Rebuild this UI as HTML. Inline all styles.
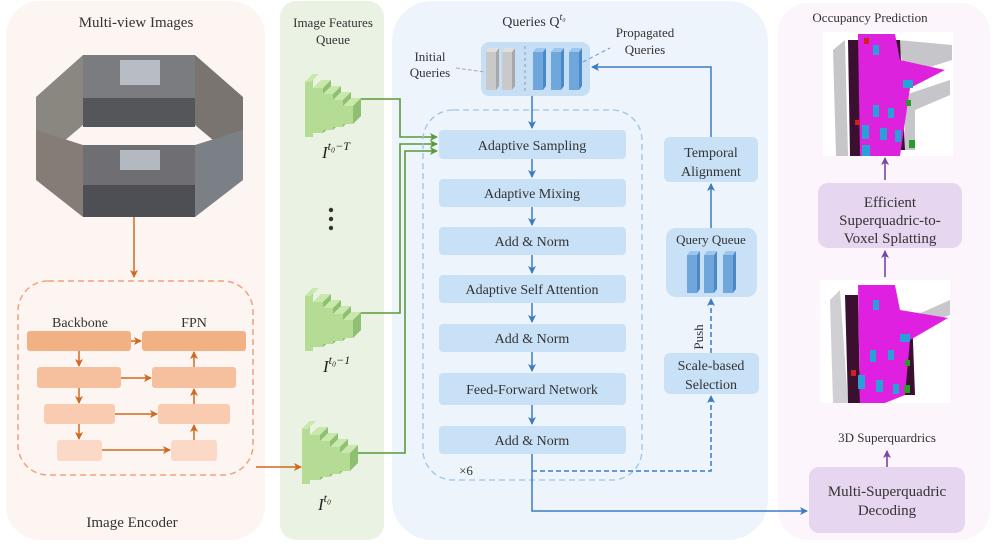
<!DOCTYPE html>
<html><head><meta charset="utf-8"><style>
html,body{margin:0;padding:0;background:#fff;}
svg{display:block;font-family:"Liberation Serif",serif;}
</style></head><body>
<svg width="996" height="544" viewBox="0 0 996 544" xmlns="http://www.w3.org/2000/svg">
<defs>
<marker id="ao" markerWidth="8" markerHeight="8" refX="7" refY="4" orient="auto" markerUnits="userSpaceOnUse"><path d="M0,0 L8,4 L0,8 L2,4z" fill="#d2691e"/></marker>
<marker id="ag" markerWidth="8" markerHeight="8" refX="7" refY="4" orient="auto" markerUnits="userSpaceOnUse"><path d="M0,0 L8,4 L0,8 L2,4z" fill="#5a9a3a"/></marker>
<marker id="ab" markerWidth="8" markerHeight="8" refX="7" refY="4" orient="auto" markerUnits="userSpaceOnUse"><path d="M0,0 L8,4 L0,8 L2,4z" fill="#3a7cc4"/></marker>
<marker id="ap" markerWidth="8" markerHeight="8" refX="7" refY="4" orient="auto" markerUnits="userSpaceOnUse"><path d="M0,0 L8,4 L0,8 L2,4z" fill="#7a45a8"/></marker>
<g id="cube">
<polygon points="0,14 8,6 8,66 0,69" fill="#9ccf7e"/>
<rect x="0" y="14" width="8" height="55" fill="#b4dc95"/>
<polygon points="0,14 8,6 14,6 6,14" fill="#c8e8ac"/>
<rect x="8" y="20" width="10" height="45" fill="#b4dc95"/><polygon points="8,20 16,12 26,12 18,20" fill="#c8e8ac"/><polygon points="18,20 26,12 26,58 18,65" fill="#8fbf70"/>
<rect x="18" y="26" width="10" height="36" fill="#b4dc95"/><polygon points="18,26 26,18 36,18 28,26" fill="#c8e8ac"/><polygon points="28,26 36,18 36,54 28,62" fill="#8fbf70"/>
<rect x="28" y="32" width="10" height="27" fill="#b4dc95"/><polygon points="28,32 36,24 46,24 38,32" fill="#c8e8ac"/><polygon points="38,32 46,24 46,50 38,59" fill="#8fbf70"/>
<rect x="38" y="38" width="10" height="18" fill="#b4dc95"/><polygon points="38,38 46,30 56,30 48,38" fill="#c8e8ac"/><polygon points="48,38 56,30 56,48 48,56" fill="#8fbf70"/>
</g>
<g id="bbar"><rect x="0" y="4" width="10" height="38" fill="#6fa7dc"/><polygon points="10,4 13,0 13,38 10,42" fill="#4a88c6"/><polygon points="0,4 3,0 13,0 10,4" fill="#9cc6ec"/></g>
<g id="gbar"><rect x="0" y="4" width="10" height="38" fill="#c9c9c9"/><polygon points="10,4 13,0 13,38 10,42" fill="#a8a8a8"/><polygon points="0,4 3,0 13,0 10,4" fill="#e0e0e0"/></g>
</defs>

<rect x="6" y="1" width="259" height="539" rx="34" fill="#fdf5f1"/>
<rect x="280" y="1" width="104" height="539" rx="16" fill="#e9f2e3"/>
<rect x="392" y="1" width="376" height="539" rx="40" fill="#eef4fb"/>
<rect x="778" y="3" width="212" height="537" rx="30" fill="#fcf5fb"/>

<text x="136" y="27" font-size="15" text-anchor="middle" fill="#333">Multi-view Images</text>
<polygon points="36,97 83,55 83,125 36,165" fill="#8a8680"/>
<rect x="83" y="55" width="112" height="72" fill="#7b7c80"/>
<rect x="83" y="98" width="112" height="29" fill="#55565a"/>
<polygon points="195,55 243,97 243,165 195,125" fill="#7a7470"/>
<polygon points="36,130 83,145 83,217 36,180" fill="#857c76"/>
<rect x="83" y="145" width="112" height="72" fill="#6f6e72"/>
<rect x="83" y="185" width="112" height="32" fill="#4e4f54"/>
<polygon points="195,145 243,130 243,180 195,217" fill="#7b7f86"/>
<rect x="120" y="60" width="40" height="25" fill="#b8bcc4"/>
<rect x="120" y="150" width="40" height="20" fill="#b4b8c0"/>
<line x1="134" y1="217" x2="134" y2="277" stroke="#d2691e" stroke-width="1.5" marker-end="url(#ao)"/>
<rect x="18" y="281" width="235" height="194" rx="30" fill="none" stroke="#f2a27a" stroke-width="1.5" stroke-dasharray="6,4"/>
<text x="80" y="327" font-size="14" text-anchor="middle" fill="#333">Backbone</text>
<text x="194" y="327" font-size="14" text-anchor="middle" fill="#333">FPN</text>
<rect x="27" y="331" width="104" height="20" rx="3" fill="#f2b085"/>
<rect x="142" y="331" width="104" height="20" rx="3" fill="#f2b085"/>
<rect x="37" y="367" width="84" height="21" rx="3" fill="#f6c09e"/>
<rect x="152" y="367" width="84" height="21" rx="3" fill="#f6c09e"/>
<rect x="44" y="404" width="71" height="20" rx="3" fill="#f9cbb0"/>
<rect x="158" y="404" width="72" height="20" rx="3" fill="#f9cbb0"/>
<rect x="57" y="440" width="45" height="21" rx="3" fill="#fbd9c6"/>
<rect x="171" y="440" width="46" height="21" rx="3" fill="#fbd9c6"/>
<g stroke="#d2691e" stroke-width="1.5">
<line x1="79" y1="351" x2="79" y2="366" marker-end="url(#ao)"/>
<line x1="79" y1="388" x2="79" y2="403" marker-end="url(#ao)"/>
<line x1="79" y1="424" x2="79" y2="439" marker-end="url(#ao)"/>
<line x1="194" y1="367" x2="194" y2="352" marker-end="url(#ao)"/>
<line x1="194" y1="404" x2="194" y2="389" marker-end="url(#ao)"/>
<line x1="194" y1="440" x2="194" y2="425" marker-end="url(#ao)"/>
<line x1="131" y1="341" x2="141" y2="341" marker-end="url(#ao)"/>
<line x1="121" y1="378" x2="151" y2="378" marker-end="url(#ao)"/>
<line x1="115" y1="414" x2="157" y2="414" marker-end="url(#ao)"/>
<line x1="102" y1="450" x2="170" y2="450" marker-end="url(#ao)"/>
<line x1="256" y1="467" x2="301" y2="467" marker-end="url(#ao)"/>
</g>
<text x="132" y="527" font-size="15" text-anchor="middle" fill="#333">Image Encoder</text>

<text x="333" y="27" font-size="13" text-anchor="middle" fill="#333">Image Features</text>
<text x="333" y="44" font-size="13" text-anchor="middle" fill="#333">Queue</text>
<use href="#cube" x="305" y="68"/>
<use href="#cube" x="305" y="282"/>
<use href="#cube" x="302" y="415"/>
<text x="322" y="158" font-size="17" font-style="italic" fill="#222">I<tspan font-size="12" dy="-8">t₀−T</tspan></text>
<text x="323" y="372" font-size="17" font-style="italic" fill="#222">I<tspan font-size="12" dy="-8">t₀−1</tspan></text>
<text x="318" y="510" font-size="17" font-style="italic" fill="#222">I<tspan font-size="12" dy="-8">t₀</tspan></text>
<circle cx="331" cy="210" r="2.2" fill="#333"/><circle cx="331" cy="219" r="2.2" fill="#333"/><circle cx="331" cy="228" r="2.2" fill="#333"/>
<g fill="none" stroke="#5a9a3a" stroke-width="1.6">
<polyline points="361,99 400,99 400,137 437,137" marker-end="url(#ag)"/>
<polyline points="361,313 400,313 400,144 437,144" marker-end="url(#ag)"/>
<polyline points="358,453 405,453 405,151 437,151" marker-end="url(#ag)"/>
</g>

<text x="534" y="26" font-size="14" text-anchor="middle" fill="#333">Queries Q<tspan font-size="10" dy="-6" font-style="italic">t₀</tspan></text>
<rect x="481" y="42" width="109" height="54" rx="8" fill="#c6dff5"/>
<use href="#gbar" x="486" y="48"/><use href="#gbar" x="502" y="48"/>
<line x1="525" y1="46" x2="525" y2="92" stroke="#999" stroke-dasharray="3,3"/>
<use href="#bbar" x="533" y="48"/><use href="#bbar" x="551" y="48"/><use href="#bbar" x="569" y="48"/>
<text x="430" y="61" font-size="13" text-anchor="middle" fill="#333">Initial</text>
<text x="430" y="77" font-size="13" text-anchor="middle" fill="#333">Queries</text>
<line x1="456" y1="68" x2="485" y2="72" stroke="#aaa" stroke-dasharray="4,2"/>
<text x="645" y="37" font-size="13" text-anchor="middle" fill="#333">Propagated</text>
<text x="645" y="54" font-size="13" text-anchor="middle" fill="#333">Queries</text>
<line x1="583" y1="62" x2="610" y2="48" stroke="#5b9ad8" stroke-dasharray="4,3"/>
<rect x="423" y="110" width="219" height="370" rx="30" fill="none" stroke="#9cc4ea" stroke-width="1.3" stroke-dasharray="6,4"/>
<g fill="#c8e1f7">
<rect x="439" y="130" width="187" height="29" rx="4"/>
<rect x="439" y="179" width="187" height="28" rx="4"/>
<rect x="439" y="227" width="187" height="28" rx="4"/>
<rect x="439" y="275" width="187" height="28" rx="4"/>
<rect x="439" y="324" width="187" height="28" rx="4"/>
<rect x="439" y="373" width="187" height="32" rx="4"/>
<rect x="439" y="426" width="187" height="28" rx="4"/>
<rect x="664" y="137" width="94" height="45" rx="6"/>
<rect x="666" y="228" width="91" height="69" rx="10"/>
<rect x="664" y="353" width="95" height="41" rx="6"/>
</g>
<g font-size="14" text-anchor="middle" fill="#333">
<text x="532" y="150">Adaptive Sampling</text>
<text x="532" y="198">Adaptive Mixing</text>
<text x="532" y="246">Add &amp; Norm</text>
<text x="532" y="294">Adaptive Self Attention</text>
<text x="532" y="343">Add &amp; Norm</text>
<text x="532" y="394">Feed-Forward Network</text>
<text x="532" y="445">Add &amp; Norm</text>
<text x="711" y="157">Temporal</text>
<text x="711" y="176">Alignment</text>
<text x="711" y="370">Scale-based</text>
<text x="711" y="389">Selection</text>
<text x="711" y="244" font-size="13">Query Queue</text>
<text x="466" y="475" font-size="13">×6</text>
</g>
<text transform="translate(703,337) rotate(-90)" font-size="13" text-anchor="middle" fill="#333">Push</text>
<use href="#bbar" x="687" y="251"/><use href="#bbar" x="704" y="251"/><use href="#bbar" x="723" y="251"/>
<g stroke="#3a7cc4" stroke-width="1.5" fill="none">
<line x1="532" y1="96" x2="532" y2="128" marker-end="url(#ab)"/>
<line x1="532" y1="159" x2="532" y2="177" marker-end="url(#ab)"/>
<line x1="532" y1="207" x2="532" y2="225" marker-end="url(#ab)"/>
<line x1="532" y1="255" x2="532" y2="273" marker-end="url(#ab)"/>
<line x1="532" y1="303" x2="532" y2="322" marker-end="url(#ab)"/>
<line x1="532" y1="352" x2="532" y2="371" marker-end="url(#ab)"/>
<line x1="532" y1="405" x2="532" y2="424" marker-end="url(#ab)"/>
<polyline points="711,137 711,67 592,67" marker-end="url(#ab)"/>
<line x1="711" y1="228" x2="711" y2="184" marker-end="url(#ab)"/>
<polyline points="532,454 532,511 807,511" marker-end="url(#ab)"/>
<polyline points="532,471 711,471 711,396" stroke-dasharray="5,3" marker-end="url(#ab)"/>
<line x1="711" y1="353" x2="711" y2="299" stroke-dasharray="5,3" marker-end="url(#ab)"/>
</g>

<text x="870" y="22" font-size="13" text-anchor="middle" fill="#333">Occupancy Prediction</text>
<g>
<rect x="823" y="32" width="130" height="124" fill="#fff"/>
<polygon points="833,50 845,40 848,156 836,156" fill="#c6c6ca"/>
<polygon points="898,40 952,45 952,60 905,75" fill="#c6c6ca"/>
<polygon points="905,95 950,80 950,95 915,110 915,150 905,150" fill="#c6c6ca"/>
<polygon points="848,40 860,40 860,156 850,156" fill="#3a0f30"/>
<polygon points="892,40 900,40 905,150 895,150" fill="#3a0f30"/>
<polygon points="858,34 895,34 900,60 945,70 910,88 900,156 860,156" fill="#dd22dd"/>
<g fill="#2aa0d8"><rect x="873" y="45" width="6" height="10"/><rect x="903" y="80" width="10" height="8"/><rect x="873" y="105" width="6" height="12"/><rect x="888" y="108" width="6" height="10"/><rect x="862" y="125" width="7" height="14"/><rect x="880" y="128" width="7" height="12"/><rect x="895" y="130" width="6" height="12"/><rect x="862" y="145" width="8" height="11"/></g>
<g fill="#d02020"><rect x="864" y="38" width="5" height="6"/><rect x="855" y="120" width="5" height="5"/></g>
<g fill="#2a9a2a"><rect x="906" y="100" width="5" height="6"/><rect x="909" y="140" width="6" height="8"/></g>
</g>
<line x1="885" y1="180" x2="885" y2="158" stroke="#7a45a8" stroke-width="1.6" marker-end="url(#ap)"/>
<rect x="818" y="183" width="144" height="65" rx="10" fill="#e6d6ef"/>
<line x1="885" y1="277" x2="885" y2="251" stroke="#7a45a8" stroke-width="1.6" marker-end="url(#ap)"/>
<g>
<rect x="820" y="280" width="130" height="123" fill="#fff"/>
<polygon points="830,300 840,290 848,403 833,403" fill="#d0d0d4"/>
<polygon points="905,320 950,300 950,315 910,330" fill="#c8c8cc"/>
<polygon points="845,295 858,295 860,403 848,403" fill="#3a0f30"/>
<polygon points="900,320 912,315 915,395 905,395" fill="#3a0f30"/>
<polygon points="858,285 895,285 900,310 948,318 910,340 905,395 885,403 860,403" fill="#e020e0"/>
<g fill="#2aa0d8"><rect x="873" y="300" width="6" height="10"/><rect x="900" y="334" width="10" height="8"/><rect x="870" y="350" width="6" height="12"/><rect x="888" y="350" width="6" height="10"/><rect x="858" y="375" width="7" height="14"/><rect x="876" y="380" width="7" height="12"/><rect x="893" y="384" width="6" height="10"/></g>
<g fill="#d02020"><rect x="851" y="370" width="5" height="6"/></g>
<g fill="#2a9a2a"><rect x="905" y="360" width="5" height="6"/><rect x="904" y="385" width="6" height="8"/></g>
</g>
<text x="887" y="442" font-size="13" text-anchor="middle" fill="#333">3D Superquardrics</text>
<line x1="887" y1="467" x2="887" y2="451" stroke="#7a45a8" stroke-width="1.6" marker-end="url(#ap)"/>
<rect x="809" y="467" width="156" height="66" rx="10" fill="#e6d6ef"/>
<g font-size="15" text-anchor="middle" fill="#333">
<text x="890" y="207">Efficient</text>
<text x="890" y="225">Superquadric-to-</text>
<text x="890" y="243">Voxel Splatting</text>
<text x="887" y="496">Multi-Superquadric</text>
<text x="887" y="515">Decoding</text>
</g>
</svg>
</body></html>
